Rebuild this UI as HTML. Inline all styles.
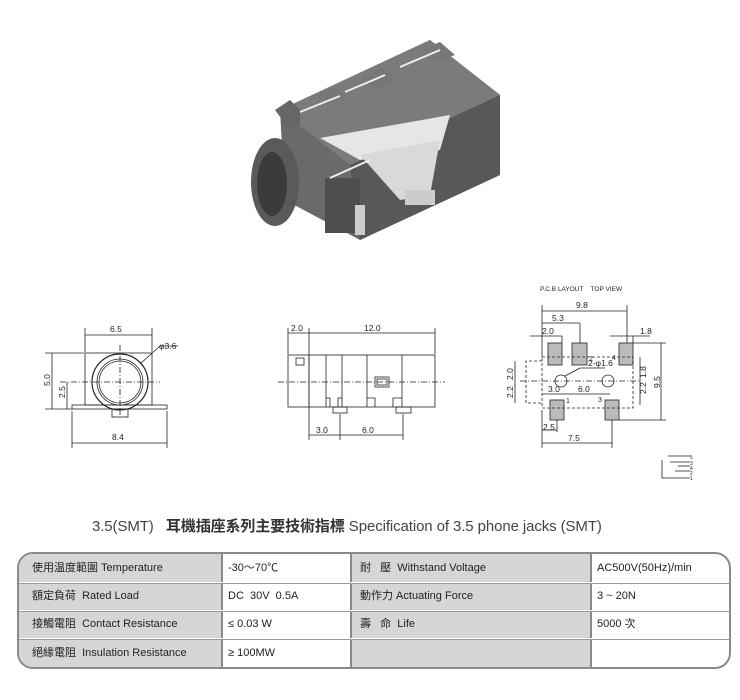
<!DOCTYPE html>
<html><head><meta charset="utf-8"><style>
body{margin:0;background:#fff;width:740px;height:700px;overflow:hidden;position:relative;font-family:"Liberation Sans","Noto Sans CJK TC",sans-serif}
svg{position:absolute;left:0;top:0}
.t{position:absolute;left:92px;top:517px;font-size:15px;line-height:20px;color:#444;white-space:nowrap;letter-spacing:-0.1px}
.t b{color:#333}
.wrap{position:absolute;left:17px;top:552px;width:710px;height:113px;border:2px solid #8a8a8a;border-radius:16px;overflow:hidden;background:#fff}
.wrap div{position:absolute;}
.c{position:absolute;font-size:11px;line-height:14px;color:#222;white-space:nowrap}
</style></head><body>
<svg width="740" height="700" viewBox="0 0 740 700" font-family="Liberation Sans, sans-serif">
<g>
<polygon points="280,110 430,40 500,95 500,175 360,240 285,200" fill="#6a6a6a"/>
<polygon points="280,110 430,40 500,95 350,165" fill="#7b7b7b"/>
<polygon points="350,165 500,95 500,175 360,240" fill="#585858"/>
<polygon points="275,110 290,100 300,110 300,125 290,130" fill="#666"/>
<polygon points="315,95 335,88 345,97 328,106" fill="#777"/>
<polygon points="360,78 380,68 395,80 375,90" fill="#777"/>
<polygon points="420,50 440,42 455,55 435,62" fill="#777"/>
<ellipse cx="275" cy="182" rx="24" ry="44" fill="#5a5a5a"/>
<ellipse cx="272" cy="184" rx="15" ry="32" fill="#3b3b3b"/>
<polygon points="320,138 450,115 440,150 360,160" fill="#e6e6e6"/>
<polygon points="360,155 440,140 430,195 400,200" fill="#d9d9d9"/>
<rect x="325" y="178" width="35" height="55" fill="#4e4e4e"/>
<rect x="355" y="205" width="10" height="30" fill="#ccc"/>
<rect x="405" y="190" width="30" height="15" fill="#ccc"/>
<line x1="300" y1="112" x2="340" y2="96" stroke="#eee" stroke-width="2"/>
<line x1="345" y1="92" x2="385" y2="75" stroke="#eee" stroke-width="2"/>
<line x1="400" y1="67" x2="440" y2="50" stroke="#eee" stroke-width="2"/>
<line x1="330" y1="178" x2="370" y2="160" stroke="#eee" stroke-width="2"/>
</g>
<g stroke="#222" stroke-width="0.8" fill="none">
<rect x="85" y="353" width="67" height="52"/>
<rect x="72" y="405" width="95" height="4"/>
<rect x="112" y="409" width="16" height="8"/>
<circle cx="120" cy="382" r="28" stroke-width="1.2"/>
<circle cx="120" cy="382" r="23"/>
<circle cx="120" cy="382" r="21"/>
<line x1="60" y1="382" x2="160" y2="382" stroke-dasharray="6,2,1,2"/>
<line x1="120" y1="345" x2="120" y2="415" stroke-dasharray="6,2,1,2"/>
<line x1="85" y1="328" x2="85" y2="352"/><line x1="152" y1="328" x2="152" y2="352"/>
<line x1="85" y1="335" x2="152" y2="335"/>
<line x1="72" y1="411" x2="72" y2="448"/><line x1="167" y1="411" x2="167" y2="448"/>
<line x1="72" y1="443" x2="167" y2="443"/>
<line x1="45" y1="353" x2="84" y2="353"/><line x1="45" y1="409" x2="72" y2="409"/>
<line x1="52" y1="353" x2="52" y2="409"/>
<line x1="67" y1="382" x2="67" y2="409"/>
<line x1="140" y1="364" x2="160" y2="346"/><line x1="160" y1="346" x2="178" y2="346"/>
<rect x="288" y="355" width="147" height="52"/>
<line x1="309" y1="355" x2="309" y2="407"/><line x1="326" y1="355" x2="326" y2="407"/>
<line x1="342" y1="355" x2="342" y2="407"/><line x1="367" y1="355" x2="367" y2="407"/>
<line x1="402" y1="355" x2="402" y2="407"/>
<polyline points="326,398 330,398 330,407"/><polyline points="342,398 338,398 338,407"/>
<polyline points="367,398 375,398 375,407"/><polyline points="402,398 393,398 393,407"/>
<rect x="296" y="358" width="8" height="7"/>
<rect x="375" y="377" width="14" height="10"/><rect x="377" y="379" width="10" height="6"/>
<rect x="333" y="407" width="14" height="6"/><rect x="396" y="407" width="15" height="6"/>
<line x1="278" y1="382" x2="445" y2="382" stroke-dasharray="6,2,1,2"/>
<line x1="288" y1="328" x2="288" y2="354"/><line x1="309" y1="328" x2="309" y2="440"/><line x1="435" y1="328" x2="435" y2="354"/>
<line x1="288" y1="333" x2="435" y2="333"/>
<line x1="340" y1="414" x2="340" y2="440"/><line x1="403" y1="414" x2="403" y2="440"/>
<line x1="309" y1="435" x2="403" y2="435"/>
<g fill="#bbb"><rect x="548" y="343" width="14" height="22"/><rect x="572" y="343" width="15" height="22"/><rect x="619" y="343" width="14" height="22"/><rect x="550" y="400" width="14" height="20"/><rect x="605" y="400" width="14" height="20"/></g>
<g stroke-dasharray="3,2"><rect x="542" y="357" width="91" height="51"/><polyline points="542,361 526,361 526,403 542,403"/></g>
<circle cx="561" cy="381" r="6"/><circle cx="608" cy="381" r="6"/>
<line x1="520" y1="381" x2="640" y2="381" stroke-dasharray="6,2,1,2"/>
<line x1="542" y1="305" x2="542" y2="357"/><line x1="627" y1="305" x2="627" y2="343"/>
<line x1="542" y1="311" x2="627" y2="311"/>
<line x1="542" y1="323" x2="580" y2="323"/><line x1="580" y1="323" x2="580" y2="343"/>
<line x1="530" y1="336" x2="562" y2="336"/><line x1="562" y1="336" x2="562" y2="343"/>
<line x1="610" y1="336" x2="650" y2="336"/><line x1="633" y1="336" x2="633" y2="343"/>
<line x1="633" y1="343" x2="666" y2="343"/><line x1="619" y1="420" x2="666" y2="420"/>
<line x1="661" y1="343" x2="661" y2="420"/>
<line x1="640" y1="357" x2="640" y2="405"/>
<line x1="515" y1="361" x2="515" y2="403"/>
<line x1="542" y1="410" x2="542" y2="448"/><line x1="612" y1="420" x2="612" y2="448"/>
<line x1="542" y1="443" x2="612" y2="443"/>
<line x1="542" y1="430" x2="557" y2="430"/><line x1="557" y1="420" x2="557" y2="432"/>
<line x1="542" y1="394" x2="610" y2="394"/>
<line x1="565" y1="376" x2="580" y2="368"/><line x1="580" y1="368" x2="605" y2="368"/>
<polyline points="662,460 662,478 690,478"/><line x1="668" y1="456" x2="690" y2="456"/>
<line x1="670" y1="462" x2="690" y2="462"/><line x1="678" y1="466" x2="690" y2="466"/><line x1="675" y1="471" x2="690" y2="471"/>
</g>
<g font-size="8.5" fill="#222">
<text x="110" y="332">6.5</text><text x="159" y="349">φ3.6</text><text x="112" y="440">8.4</text>
<text transform="translate(50,386) rotate(-90)">5.0</text><text transform="translate(65,398) rotate(-90)">2.5</text>
<text x="291" y="331">2.0</text><text x="364" y="331">12.0</text><text x="316" y="433">3.0</text><text x="362" y="433">6.0</text>
<text x="576" y="308">9.8</text><text x="552" y="321">5.3</text><text x="542" y="334">2.0</text><text x="640" y="334">1.8</text>
<text x="588" y="366">2-φ1.6</text><text x="548" y="392">3.0</text><text x="578" y="392">6.0</text>
<text x="543" y="430">2.5</text><text x="568" y="441">7.5</text>
<text font-size="7" x="589" y="361">2</text><text font-size="7" x="612" y="360">4</text><text font-size="7" x="566" y="403">1</text><text font-size="7" x="598" y="402">3</text>
<text transform="translate(513,380) rotate(-90)">2.0</text><text transform="translate(513,398) rotate(-90)">2.2</text>
<text transform="translate(646,378) rotate(-90)">1.8</text><text transform="translate(646,394) rotate(-90)">2.2</text>
<text transform="translate(660,388) rotate(-90)">9.5</text>
<text font-size="6.5" x="540" y="291">P.C.B LAYOUT&#160;&#160;&#160; TOP VIEW</text>
<text font-size="5" x="690" y="459">5</text><text font-size="5" x="690" y="465">3</text><text font-size="5" x="690" y="470">4</text><text font-size="5" x="690" y="475">2</text><text font-size="5" x="690" y="480">1</text>
</g>
</svg>
<div class="t">3.5(SMT)&#160;&#160; <b>耳機插座系列主要技術指標</b> Specification of 3.5 phone jacks (SMT)</div>
<div class="wrap">
<div style="left:0;top:0;width:202px;height:113px;background:#d6d6d6"></div>
<div style="left:333px;top:0;width:238px;height:113px;background:#d6d6d6"></div>
<div style="left:202px;top:0;width:2px;height:113px;background:#888"></div>
<div style="left:331px;top:0;width:2px;height:113px;background:#888"></div>
<div style="left:571px;top:0;width:2px;height:113px;background:#888"></div>
<div style="left:0;top:28px;width:710px;height:1px;background:#fff;border-bottom:1px solid #999"></div>
<div style="left:0;top:56px;width:710px;height:1px;background:#fff;border-bottom:1px solid #999"></div>
<div style="left:0;top:84px;width:710px;height:1px;background:#fff;border-bottom:1px solid #999"></div>
</div>
<div class="c" style="left:32px;top:561px">使用温度範圍 Temperature</div>
<div class="c" style="left:32px;top:589px">額定負荷&#160; Rated Load</div>
<div class="c" style="left:32px;top:617px">接觸電阻&#160; Contact Resistance</div>
<div class="c" style="left:32px;top:646px">絕緣電阻&#160; Insulation Resistance</div>
<div class="c" style="left:228px;top:561px">-30～70℃</div>
<div class="c" style="left:228px;top:589px">DC&#160; 30V&#160; 0.5A</div>
<div class="c" style="left:228px;top:617px">≤ 0.03 W</div>
<div class="c" style="left:228px;top:646px">≥ 100MW</div>
<div class="c" style="left:360px;top:561px">耐&#160;&#160;&#160;壓&#160; Withstand Voltage</div>
<div class="c" style="left:360px;top:589px">動作力 Actuating Force</div>
<div class="c" style="left:360px;top:617px">壽&#160;&#160;&#160;命&#160; Life</div>
<div class="c" style="left:597px;top:561px">AC500V(50Hz)/min</div>
<div class="c" style="left:597px;top:589px">3 ~ 20N</div>
<div class="c" style="left:597px;top:617px">5000 次</div>
</body></html>
